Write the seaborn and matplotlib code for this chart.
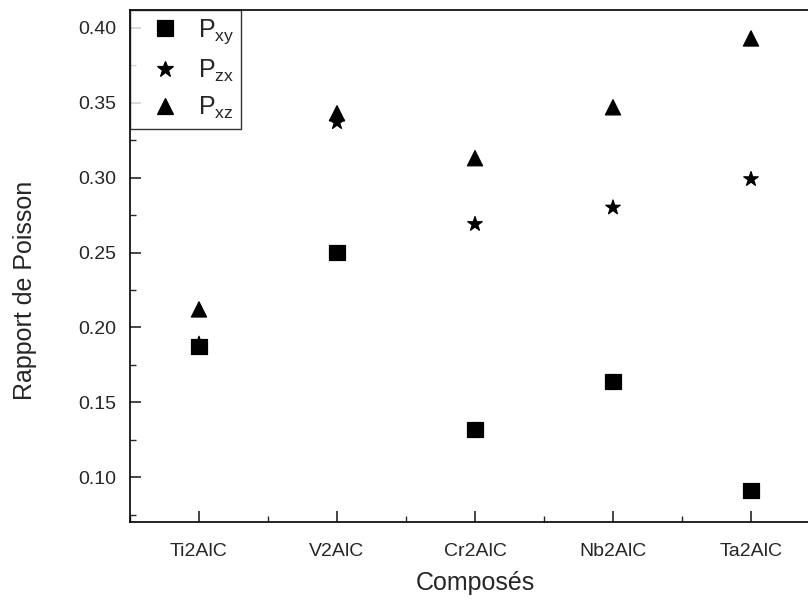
import pandas as pd
import matplotlib
matplotlib.use("Agg")
import matplotlib.pyplot as plt
import seaborn as sns
from matplotlib.ticker import MultipleLocator

# valeurs
composes = ["Ti2AlC", "V2AlC", "Cr2AlC", "Nb2AlC", "Ta2AlC"]
p_xy = [0.187, 0.250, 0.132, 0.164, 0.091]
p_zx = [0.189, 0.337, 0.269, 0.280, 0.299]
p_xz = [0.212, 0.343, 0.313, 0.347, 0.393]
noms = [r"P$_{xy}$", r"P$_{zx}$", r"P$_{xz}$"]
yticks = [0.10, 0.15, 0.20, 0.25, 0.30, 0.35, 0.40]

df = pd.DataFrame({
    "Composés": composes * 3,
    "Rapport": p_xy + p_zx + p_xz,
    "Série": [noms[0]] * 5 + [noms[1]] * 5 + [noms[2]] * 5,
})

sns.set_style("ticks")
plt.rcParams["font.family"] = ["Liberation Sans", "DejaVu Sans"]
plt.rcParams["mathtext.fontset"] = "custom"
plt.rcParams["mathtext.rm"] = "Liberation Sans"
plt.rcParams["mathtext.it"] = "Liberation Sans"
plt.rcParams["mathtext.default"] = "regular"

fig = plt.figure(figsize=(8.08, 6.01), dpi=100)
ax = fig.add_axes([130 / 808, 1 - 521.7 / 601, 690 / 808, (521.7 - 10) / 601])

sns.scatterplot(data=df, x="Composés", y="Rapport", style="Série",
                markers={noms[0]: "s", noms[1]: "*", noms[2]: "^"},
                color="black", edgecolor="black", s=120, ax=ax, legend=True)

ax.set_xlim(-0.5, 4.5)
ax.set_ylim(0.0702, 0.412)
ax.yaxis.set_minor_locator(MultipleLocator(0.025))
ax.xaxis.set_minor_locator(MultipleLocator(0.5))
ax.set_yticks(yticks)
ax.set_yticklabels([f"{v:.2f}" for v in yticks])

ax.tick_params(which="major", direction="in", length=8, width=1.2, labelsize=14, pad=10)
ax.tick_params(which="minor", direction="in", length=4, width=1.0)
ax.tick_params(axis="x", which="major", pad=15)
for sp in ax.spines.values():
    sp.set_linewidth(1.2)
    sp.set_color("black")

ax.set_xlabel("Composés", fontsize=18, labelpad=8)
ax.set_ylabel("Rapport de Poisson", fontsize=18)
ax.yaxis.set_label_coords(-0.135, 0.453)

handles, labels = ax.get_legend_handles_labels()
for h in handles:
    h.set_markersize(12)
leg = ax.legend(handles, labels, loc="upper left", fontsize=18, frameon=True,
                fancybox=False, edgecolor="black", borderaxespad=0,
                handletextpad=0.2, labelspacing=0.45, markerscale=1.0,
                borderpad=0.3, handlelength=2.2)
leg.get_frame().set_linewidth(1.0)

fig.savefig("out.png", dpi=100)
